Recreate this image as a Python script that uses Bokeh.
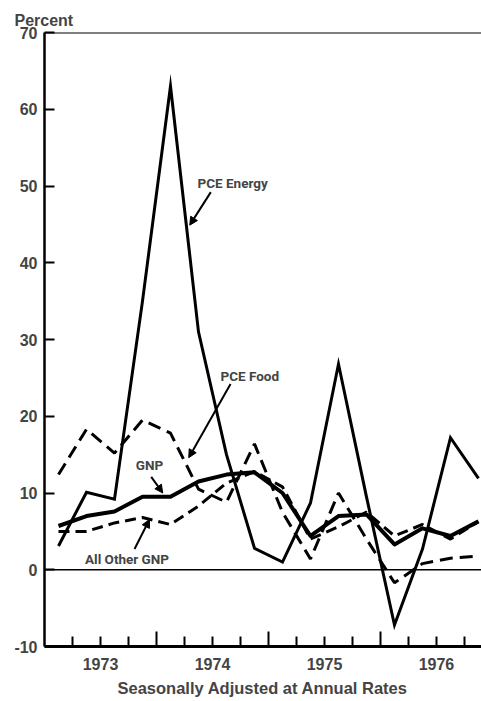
from bokeh.plotting import figure
from bokeh.models import (Span, Label, Arrow, NormalHead, FixedTicker,
                          CustomJSTickFormatter, Title, Range1d)
from bokeh.embed import file_html
from bokeh.resources import INLINE

# ---- data (quarterly, 1973 Q1 .. 1976 Q4), percent change at annual rates ----
years = [1973, 1974, 1975, 1976]
quarters = [1, 2, 3, 4]
gnp = [5.7, 7.0, 7.6, 9.5, 9.5, 11.5, 12.4, 12.7, 10.0, 4.4, 7.0, 7.2, 3.3, 5.4, 4.4, 6.3]
all_other_gnp = [5.0, 5.0, 6.1, 6.8, 5.9, 8.3, 11.3, 12.8, 10.8, 4.0, 5.6, 7.5, 4.4, 5.9, 4.0, 6.3]
pce_food = [12.4, 18.3, 15.2, 19.5, 17.8, 10.5, 8.8, 16.4, 7.5, 1.4, 10.0, 4.0, -1.7, 0.8, 1.5, 1.8]
pce_energy = [3.1, 10.1, 9.2, 35.0, 63.0, 31.0, 15.0, 2.8, 1.0, 8.7, 26.8, 9.5, -7.2, 2.7, 17.2, 11.9]
y_ticks = [-10, 0, 10, 20, 30, 40, 50, 60, 70]

# time axis: middle of each quarter
x = [yr + (q - 0.5) / 4 for yr in years for q in quarters]
quarter_bounds = [yr + q / 4 for yr in years for q in (1, 2, 3)]
year_bounds = years[1:]

FONT = "Liberation Sans"
NOTE_FONT = "Roboto"

p = figure(width=481, height=700, output_backend="svg", toolbar_location=None,
           x_range=Range1d(1973.0, 1976.902), y_range=Range1d(-10, 70),
           min_border_left=44, min_border_right=0, min_border_top=32,
           min_border_bottom=50)
p.outline_line_color = None
p.xgrid.grid_line_color = None
p.ygrid.grid_line_color = None

# ---- series ----
p.line(x, pce_energy, line_color="black", line_width=3, line_join="miter")
p.line(x, gnp, line_color="black", line_width=4, line_join="round")
p.line(x, pce_food, line_color="black", line_width=3, line_dash="13 7")
p.line(x, all_other_gnp, line_color="black", line_width=3, line_dash="11 6")

# ---- reference lines ----
p.add_layout(Span(location=0, dimension="width", line_color="black", line_width=1.6))
p.add_layout(Span(location=70, dimension="width", line_color="black", line_width=2))

# ---- y axis ----
ya = p.yaxis[0]
ya.ticker = FixedTicker(ticks=y_ticks)
ya.formatter = CustomJSTickFormatter(code="return String(Math.round(tick));")
ya.major_tick_in = 10
ya.major_tick_out = 0
ya.minor_tick_line_color = None
ya.axis_line_width = 2.5
ya.major_tick_line_width = 2
ya.major_label_text_font = FONT
ya.major_label_text_font_style = "bold"
ya.major_label_text_font_size = "16px"
ya.major_label_standoff = 7

# ---- x axis ----
xa = p.xaxis[0]
xa.ticker = FixedTicker(ticks=quarter_bounds, minor_ticks=year_bounds)
xa.formatter = CustomJSTickFormatter(
    code="return (Math.abs(tick % 1 - 0.5) < 1e-6) ? String(Math.floor(tick)) : '';")
xa.major_tick_in = 10
xa.major_tick_out = 0
xa.minor_tick_in = 15
xa.minor_tick_out = 0
xa.axis_line_width = 3
xa.major_tick_line_width = 2
xa.minor_tick_line_width = 2
xa.major_label_text_font = FONT
xa.major_label_text_font_style = "bold"
xa.major_label_text_font_size = "16px"
xa.major_label_standoff = 11

# ---- titles ----
p.title.text = "Percent"
p.title.align = "left"
p.title.offset = -30
p.title.text_font = FONT
p.title.text_font_style = "bold"
p.title.text_font_size = "16px"
p.title.standoff = 7

p.add_layout(Title(text="Seasonally Adjusted at Annual Rates", align="left", offset=73,
                   text_font=FONT, text_font_style="bold", text_font_size="16.5px",
                   standoff=8), "below")

# ---- annotations ----
def note(text, lx, ly, align, x0, y0, x1, y1):
    p.add_layout(Label(x=lx, y=ly, text=text, text_font=NOTE_FONT, text_font_style="bold",
                       text_font_size="13.5px", text_align=align, text_baseline="middle"))
    p.add_layout(Arrow(end=NormalHead(size=8, fill_color="black", line_color="black"),
                       x_start=x0, y_start=y0, x_end=x1, y_end=y1,
                       line_color="black", line_width=2))

note("PCE Energy", 1974.366, 50.4, "left", 1974.485, 49.2, 1974.297, 44.9)
note("PCE Food", 1974.571, 25.3, "left", 1974.661, 24.2, 1974.288, 14.6)
note("GNP", 1973.9375, 13.7, "center", 1973.953, 12.1, 1974.056, 10.0)
note("All Other GNP", 1973.737, 1.4, "center", 1973.804, 2.7, 1973.9375, 6.55)

open("out.html", "w").write(file_html(p, INLINE))
